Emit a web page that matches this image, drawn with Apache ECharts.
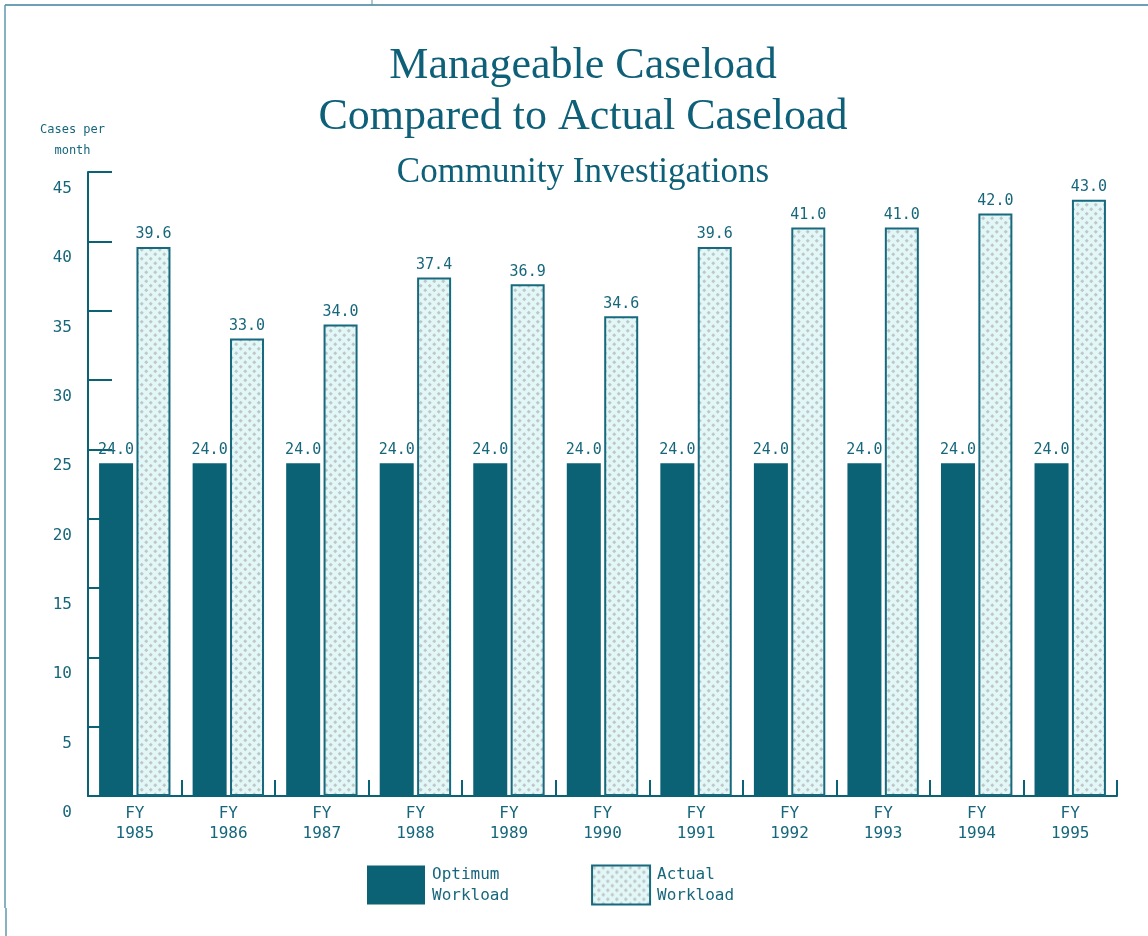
<!DOCTYPE html>
<html>
<head>
<meta charset="utf-8">
<title>Manageable Caseload Compared to Actual Caseload</title>
<script src="https://cdn.jsdelivr.net/npm/echarts@6/dist/echarts.min.js"></script>
<style>
  html, body { margin: 0; padding: 0; background: #ffffff; }
  #chart { width: 1148px; height: 936px; }
</style>
</head>
<body>
<div id="chart"></div>
<script>
// Fiscal years on the category axis
const years = ['1985', '1986', '1987', '1988', '1989', '1990', '1991', '1992', '1993', '1994', '1995'];
// Cases per month
const optimumWorkload = [24.0, 24.0, 24.0, 24.0, 24.0, 24.0, 24.0, 24.0, 24.0, 24.0, 24.0];
const actualWorkload = [39.6, 33.0, 34.0, 37.4, 36.9, 34.6, 39.6, 41.0, 41.0, 42.0, 43.0];
const seriesNames = ['Optimum\nWorkload', 'Actual\nWorkload'];

const TEAL = '#0b6275';
const INK = '#17677c';
const MONO = '"DejaVu Sans Mono", "Liberation Mono", monospace';
const SERIF = '"Liberation Serif", "DejaVu Serif", serif';

// Pale cyan fill with a grey diamond dot lattice for the actual-workload bars
function makeDotPattern() {
  const c = document.createElement('canvas');
  c.width = 9; c.height = 9;
  const g = c.getContext('2d');
  g.fillStyle = '#e2f7f7';
  g.fillRect(0, 0, 9, 9);
  g.fillStyle = '#c0c6c6';
  const dot = (x, y) => {
    g.beginPath();
    g.moveTo(x, y - 2); g.lineTo(x + 2, y); g.lineTo(x, y + 2); g.lineTo(x - 2, y);
    g.closePath(); g.fill();
  };
  dot(2.25, 2.25); dot(6.75, 6.75);
  return c;
}

const chart = echarts.init(document.getElementById('chart'), null, { renderer: 'canvas' });

chart.setOption({
  backgroundColor: '#ffffff',
  animation: false,
  title: [
    {
      text: 'Manageable Caseload\nCompared to Actual Caseload',
      left: 578, top: 36, textAlign: 'center',
      textStyle: { fontFamily: SERIF, fontWeight: 'normal', fontSize: 44, lineHeight: 51, color: '#0d6078' }
    },
    {
      text: 'Community Investigations',
      left: 578, top: 150, textAlign: 'center',
      textStyle: { fontFamily: SERIF, fontWeight: 'normal', fontSize: 35, color: '#0d6078' }
    }
  ],
  legend: {
    data: seriesNames,
    left: 367, top: 864, padding: 0,
    itemWidth: 58, itemHeight: 39, itemGap: 82,
    icon: 'rect',
    textStyle: { fontFamily: MONO, fontSize: 16, lineHeight: 21, color: INK, padding: [0, 0, 0, 2] }
  },
  grid: { left: 88, right: 31, top: 172, bottom: 140, containLabel: false },
  xAxis: {
    type: 'category',
    data: years,
    axisLine: { lineStyle: { color: TEAL, width: 2 } },
    axisTick: { show: true, inside: true, length: 16, lineStyle: { color: TEAL, width: 2 } },
    axisLabel: {
      formatter: v => 'FY\n' + v,
      margin: 8,
      fontFamily: MONO, fontSize: 16, lineHeight: 20, color: INK
    }
  },
  yAxis: {
    type: 'value',
    min: 0, max: 45, interval: 5,
    splitLine: { show: false },
    axisLine: { show: true, lineStyle: { color: TEAL, width: 2 } },
    axisTick: { show: true, inside: true, length: 24, lineStyle: { color: TEAL, width: 2 } },
    axisLabel: {
      margin: 16,
      verticalAlign: 'top',
      padding: [9, 0, 0, 0],
      fontFamily: MONO, fontSize: 16, color: INK
    }
  },
  series: [
    {
      name: seriesNames[0],
      type: 'bar',
      data: optimumWorkload,
      barWidth: 34,
      barGap: '10%',
      itemStyle: { color: TEAL },
      label: {
        show: true, position: 'top', distance: 6,
        formatter: p => p.value.toFixed(1),
        fontFamily: MONO, fontSize: 15, color: INK
      }
    },
    {
      name: seriesNames[1],
      type: 'bar',
      data: actualWorkload,
      barWidth: 34,
      itemStyle: {
        color: { image: makeDotPattern(), repeat: 'repeat' },
        borderColor: '#17697d', borderWidth: 2
      },
      label: {
        show: true, position: 'top', distance: 5,
        formatter: p => p.value.toFixed(1),
        fontFamily: MONO, fontSize: 15, color: INK
      }
    }
  ],
  graphic: [
    // page frame lines
    { type: 'line', shape: { x1: 5, y1: 5, x2: 1148, y2: 5 }, style: { stroke: '#3f7f98', lineWidth: 1.5 } },
    { type: 'line', shape: { x1: 372, y1: 0, x2: 372, y2: 5 }, style: { stroke: '#5b93a8', lineWidth: 1 } },
    { type: 'line', shape: { x1: 5, y1: 5, x2: 5, y2: 908 }, style: { stroke: '#5e98ad', lineWidth: 1.5 } },
    { type: 'line', shape: { x1: 6, y1: 908, x2: 6, y2: 936 }, style: { stroke: '#5e98ad', lineWidth: 1.5 } },
    // value-axis caption
    {
      type: 'text', left: 40, top: 119,
      style: {
        text: 'Cases per\n  month', fontFamily: MONO, fontSize: 12, lineHeight: 21, fill: INK
      }
    }
  ]
});
</script>
</body>
</html>
